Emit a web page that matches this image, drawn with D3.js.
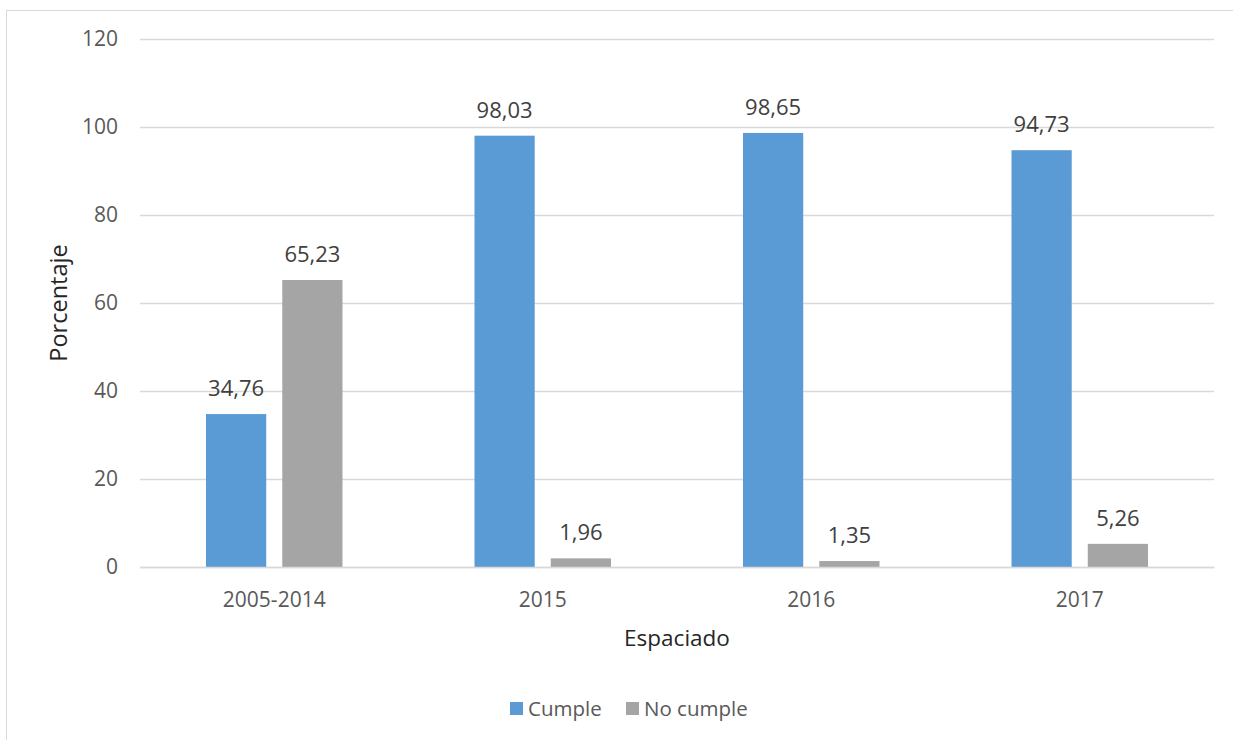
<!DOCTYPE html>
<html>
<head>
<meta charset="utf-8">
<script src="https://cdn.jsdelivr.net/npm/d3@7"></script>
<style>
  html, body { margin: 0; padding: 0; background: #fff; }
  svg { display: block; font-family: "Open Sans", sans-serif; }
</style>
</head>
<body>
<svg id="chart" width="1233" height="740"></svg>
<script>
// Data
const categories = ["2005-2014", "2015", "2016", "2017"];
const seriesNames = ["Cumple", "No cumple"];
const cumple = [34.76, 98.03, 98.65, 94.73];
const noCumple = [65.23, 1.96, 1.35, 5.26];
const yTicks = [0, 20, 40, 60, 80, 100, 120];
const colors = ["#5b9bd5", "#a5a5a5"];

const series = [cumple, noCumple];

const svg = d3.select("#chart");
const W = 1233, H = 740;

// Outer chart frame
svg.append("rect")
  .attr("x", 6.5).attr("y", 10.5)
  .attr("width", W + 10).attr("height", H + 10)
  .attr("fill", "#fff").attr("stroke", "#d9d9d9").attr("stroke-width", 1);

const plot = { left: 140, right: 1214, top: 39, bottom: 567 };

const x = d3.scaleBand()
  .domain(categories)
  .range([plot.left, plot.right])
  .paddingInner(0).paddingOuter(0);

// Two bars per category, centred in each band with a small gap between them
const inner = d3.scaleBand()
  .domain(seriesNames)
  .range([66, x.bandwidth() - 66])
  .paddingInner(16 / 76);

const y = d3.scaleLinear().domain([0, 120]).range([plot.bottom, plot.top]);

// Gridlines + y labels
const yAxis = d3.axisLeft(y).tickValues(yTicks).tickSize(-(plot.right - plot.left)).tickPadding(22);
const gy = svg.append("g").attr("transform", `translate(${plot.left},0)`).call(yAxis);
gy.select(".domain").remove();
gy.selectAll(".tick line").attr("stroke", "#d9d9d9").attr("stroke-width", 1.3);
gy.selectAll(".tick text")
  .attr("fill", "#595959").attr("font-size", 21)
  .attr("font-family", "Open Sans, sans-serif");

// Bars with value labels
categories.forEach((cat, i) => {
  const g = svg.append("g").attr("transform", `translate(${x(cat)},0)`);
  seriesNames.forEach((name, s) => {
    const v = series[s][i];
    g.append("rect")
      .attr("x", inner(name))
      .attr("y", y(v))
      .attr("width", inner.bandwidth())
      .attr("height", y(0) - y(v))
      .attr("fill", colors[s]);
    g.append("text")
      .attr("x", inner(name) + inner.bandwidth() / 2)
      .attr("y", y(v) - 18)
      .attr("text-anchor", "middle")
      .attr("fill", "#404040")
      .attr("font-size", 22)
      .text(v.toFixed(2).replace(".", ","));
  });
});

// X axis
const xAxis = d3.axisBottom(x).tickSize(0).tickPadding(25);
const gx = svg.append("g").attr("transform", `translate(0,${plot.bottom})`).call(xAxis);
gx.select(".domain").attr("stroke", "#d9d9d9").attr("stroke-width", 1.3);
gx.selectAll(".tick text")
  .attr("fill", "#595959").attr("font-size", 21)
  .attr("font-family", "Open Sans, sans-serif");

// Axis titles
svg.append("text")
  .attr("x", (plot.left + plot.right) / 2).attr("y", 646)
  .attr("text-anchor", "middle").attr("fill", "#262626").attr("font-size", 22.5)
  .text("Espaciado");

svg.append("text")
  .attr("transform", `translate(67,${(plot.top + plot.bottom) / 2}) rotate(-90)`)
  .attr("text-anchor", "middle").attr("fill", "#262626").attr("font-size", 23.5)
  .text("Porcentaje");

// Legend
const legend = svg.append("g");
const legendItems = [{ name: seriesNames[0], x: 510 }, { name: seriesNames[1], x: 626 }];
legendItems.forEach((d, i) => {
  legend.append("rect")
    .attr("x", d.x).attr("y", 702).attr("width", 13).attr("height", 13)
    .attr("fill", colors[i]);
  legend.append("text")
    .attr("x", d.x + 18).attr("y", 716)
    .attr("fill", "#595959").attr("font-size", 20.5)
    .text(d.name);
});
</script>
</body>
</html>
